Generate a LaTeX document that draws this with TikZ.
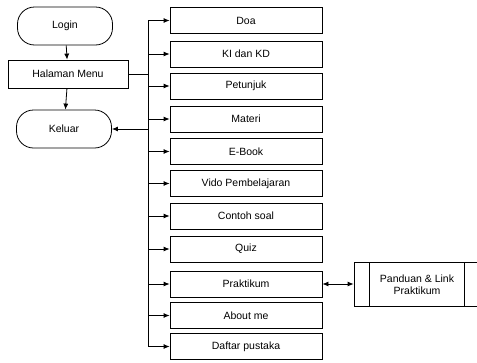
\documentclass[tikz,border=0pt]{standalone}
\usepackage{fontspec}
\setmainfont{Liberation Sans}
\usetikzlibrary{arrows.meta}

\begin{document}
\begin{tikzpicture}
[every node/.style={inner sep=0pt, font=\fontsize{10.5}{12}\selectfont},
 terminal/.style={rectangle, rounded corners=17pt, draw=black, line width=0.8pt, minimum width=95pt, minimum height=38pt},
 menubox/.style={rectangle, draw=black, line width=0.8pt, minimum width=120pt, minimum height=28pt},
 itembox/.style={rectangle, draw=black, line width=0.8pt, minimum width=152pt, minimum height=26pt},
 link/.style={line width=0.8pt},
 arr/.style={line width=0.8pt, -{Latex[length=6pt, width=5pt]}}]
\clip (0pt, 0pt) rectangle (477pt, -362pt);
\node (1) [terminal] at (65.0pt, -26.0pt) {Login};
\node (2) [menubox] at (68.0pt, -74.0pt) {Halaman Menu};
\node (3) [terminal] at (64.0pt, -129.0pt) {Keluar};
\node (4) [itembox] at (246.0pt, -20.5pt) {Doa};
\node (5) [itembox] at (246.0pt, -54.0pt) {KI dan KD};
\node (6) [itembox] at (246.0pt, -86.0pt) {Petunjuk};
\node (7) [itembox] at (246.0pt, -119.0pt) {Materi};
\node (8) [itembox] at (246.0pt, -151.5pt) {E-Book};
\node (9) [itembox] at (246.0pt, -183.5pt) {Vido Pembelajaran};
\node (10) [itembox] at (246.0pt, -216.0pt) {Contoh soal};
\node (11) [itembox] at (246.0pt, -249.0pt) {Quiz};
\node (12) [itembox] at (246.0pt, -284.0pt) {Praktikum};
\node (13) [itembox] at (246.0pt, -315.5pt) {About me};
\node (14) [itembox] at (246.0pt, -346.5pt) {Daftar pustaka};
\node (15) [rectangle, draw=black, line width=0.8pt, minimum width=126pt, minimum height=44pt, align=center] at (417.0pt, -284.5pt) {Panduan \& Link\\Praktikum};
\draw [link] ([xshift=16pt]15.north west) -- ([xshift=16pt]15.south west);
\draw [link] ([xshift=-16pt]15.north east) -- ([xshift=-16pt]15.south east);
% bus from menu to items
\coordinate (bt) at (148.0pt, -20.5pt);
\coordinate (bb) at (148.0pt, -346.5pt);
\draw [link] (bt) -- (bb);
\draw [link] (2.east) -- (2.east -| bt);
\draw [arr] (1) -- (2);
\draw [arr] (2) -- (3);
\draw [arr] (3.east -| bt) -- (3.east);
\draw [arr] (4.west -| bt) -- (4.west);
\draw [arr] (5.west -| bt) -- (5.west);
\draw [arr] (6.west -| bt) -- (6.west);
\draw [arr] (7.west -| bt) -- (7.west);
\draw [arr] (8.west -| bt) -- (8.west);
\draw [arr] (9.west -| bt) -- (9.west);
\draw [arr] (10.west -| bt) -- (10.west);
\draw [arr] (11.west -| bt) -- (11.west);
\draw [arr] (12.west -| bt) -- (12.west);
\draw [arr] (13.west -| bt) -- (13.west);
\draw [arr] (14.west -| bt) -- (14.west);
\draw [arr, {Latex[length=6pt, width=5pt]}-{Latex[length=6pt, width=5pt]}] (12.east) -- (12.east -| 15.west);
\end{tikzpicture}
\end{document}
